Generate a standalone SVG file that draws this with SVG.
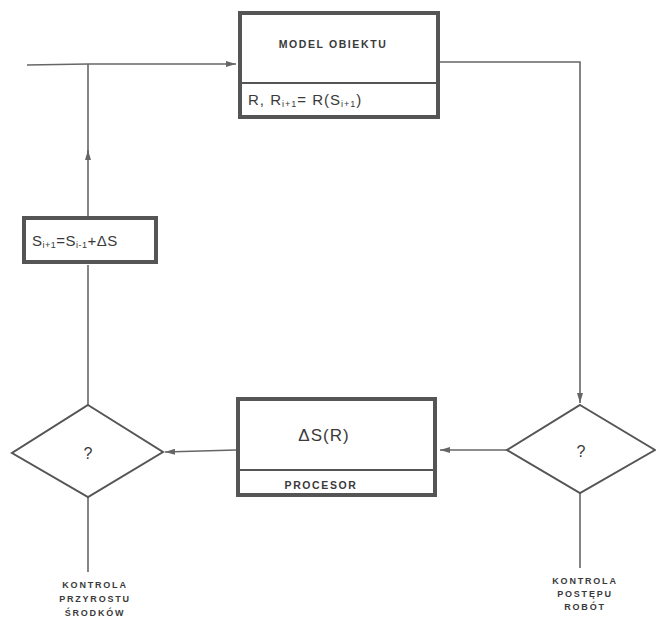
<svg xmlns="http://www.w3.org/2000/svg" width="656" height="621" viewBox="0 0 656 621">
<defs>
<style>
.box{fill:#fff;stroke:#555;stroke-width:4}
.div{stroke:#555;stroke-width:2;fill:none}
.ln{stroke:#666;stroke-width:1.6;fill:none}
.dia{fill:#fff;stroke:#555;stroke-width:2}
.t{font-family:"Liberation Sans",Arial,sans-serif;fill:#3a3a3a}
.b{font-weight:bold}
</style>
<marker id="ah" viewBox="0 0 10 6" refX="10" refY="3" markerWidth="10" markerHeight="6" markerUnits="userSpaceOnUse" orient="auto">
<path d="M0,0 L10,3 L0,6 Z" fill="#666"/>
</marker>
</defs>
<rect width="656" height="621" fill="#fff"/>
<g id="connectors">
<path class="ln" d="M88,405 L88,265"/>
<path class="ln" d="M88,218 L88,150" marker-end="url(#ah)"/>
<path class="ln" d="M88,155 L88,64"/>
<path class="ln" d="M88,64 L236,64" marker-end="url(#ah)"/>
<path class="ln" d="M88,64 L27,65"/>
<path class="ln" d="M440,62 L580,62 L580,403" marker-end="url(#ah)"/>
<path class="ln" d="M507,450 L440,450" marker-end="url(#ah)"/>
<path class="ln" d="M236,450 L165,452" marker-end="url(#ah)"/>
<path class="ln" d="M88,497 L88,572"/>
<path class="ln" d="M580,493 L580,568"/>
</g>
<g id="model">
<rect class="box" x="240" y="13" width="198" height="104"/>
<line class="div" x1="240" y1="83" x2="438" y2="83"/>
<text class="t b" x="333" y="48" font-size="10.5" text-anchor="middle" letter-spacing="1.6">MODEL  OBIEKTU</text>
<text class="t" x="248" y="105" font-size="15" letter-spacing="1">R, R<tspan font-size="9" dy="2">i+1</tspan><tspan dy="-2">= R(S</tspan><tspan font-size="9" dy="2">i+1</tspan><tspan dy="-2">)</tspan></text>
</g>
<g id="sbox">
<rect class="box" x="24" y="218" width="132" height="44"/>
<text class="t" x="32" y="246" font-size="15" letter-spacing="0.5">S<tspan font-size="9" dy="2">i+1</tspan><tspan dy="-2">=S</tspan><tspan font-size="9" dy="2">i-1</tspan><tspan dy="-2">+ΔS</tspan></text>
</g>
<g id="procesor">
<rect class="box" x="238" y="399" width="197" height="96"/>
<line class="div" x1="238" y1="470" x2="435" y2="470"/>
<text class="t" x="324" y="441" font-size="17" text-anchor="middle" letter-spacing="1">ΔS(R)</text>
<text class="t b" x="321" y="489" font-size="10.5" text-anchor="middle" letter-spacing="1.6">PROCESOR</text>
</g>
<g id="leftdiamond">
<polygon class="dia" points="88,405 163,452 88,497 12,453"/>
<text class="t" x="88" y="459" font-size="16" text-anchor="middle">?</text>
</g>
<g id="rightdiamond">
<polygon class="dia" points="580,405 655,450 580,493 507,450"/>
<text class="t" x="581" y="457" font-size="16" text-anchor="middle">?</text>
</g>
<g id="labels">
<text class="t b" font-size="9" text-anchor="middle" letter-spacing="1.8"><tspan x="95" y="588">KONTROLA</tspan><tspan x="95" y="602">PRZYROSTU</tspan><tspan x="95" y="616">ŚRODKÓW</tspan></text>
<text class="t b" font-size="9" text-anchor="middle" letter-spacing="1.8"><tspan x="585" y="584">KONTROLA</tspan><tspan x="585" y="597">POSTĘPU</tspan><tspan x="585" y="610">ROBÓT</tspan></text>
</g>
</svg>
